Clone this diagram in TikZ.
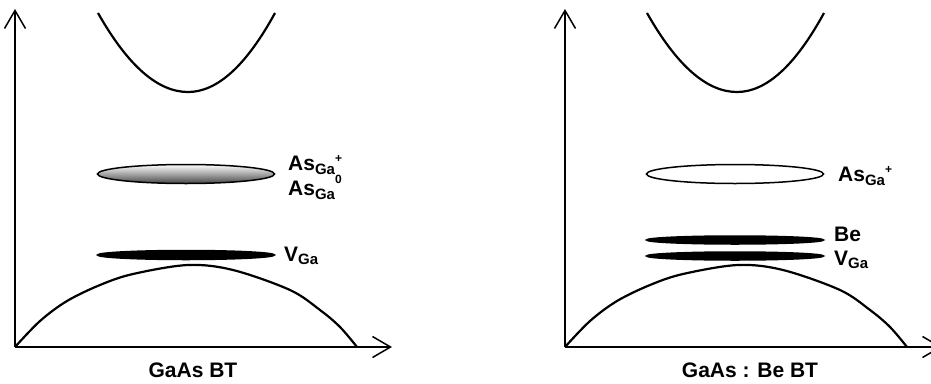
\documentclass[tikz,border=0pt]{standalone}
\usepackage{fontspec}
\setmainfont{Liberation Sans}
\usetikzlibrary{arrows.meta,shapes.geometric}
\newcommand{\deflab}[5]{#1\raisebox{-#4}{\fontsize{15}{15}\selectfont #2}\raisebox{#5}{\fontsize{12}{12}\selectfont #3}}
\tikzset{
  axisline/.style={line width=1.5pt,-{Straight Barb[length=18pt,width=21pt,line width=1.5pt]}},
  bandline/.style={line width=2.2pt,line join=round},
  deflevel/.style={ellipse,draw,line width=1.5pt,minimum width=177pt,minimum height=#1,inner sep=0pt},
  grayfill/.style={top color=white,bottom color=black!72},
  darkfill/.style={fill=black},
  lbl/.style={font=\fontsize{21}{21}\selectfont\bfseries,inner sep=0pt,anchor=base west},
  ttl/.style={font=\fontsize{21}{21}\selectfont\bfseries,inner sep=0pt,anchor=base}
}
\begin{document}
\begin{tikzpicture}[x=1pt,y=-1pt]
\useasboundingbox (0,0) rectangle (931,383);
\clip (0,0) rectangle (931,383);
% ---------- left panel ----------
\coordinate (lo) at (15,347);
\coordinate (ly) at (15,9);
\coordinate (lx) at (392,347);
\draw[axisline] (lo) -- (ly);
\draw[axisline] (lo) -- (lx);
\draw[bandline] (98,13) .. controls (128,66) and (158,92) .. (188,92)
                        .. controls (217,92) and (246,66) .. (275,13);
\draw[bandline] plot[smooth,tension=0.55] coordinates {(15,347) (40,321) (67,301) (100,285) (133,274) (188,265) (233,270) (290,290) (320,310) (340,327) (357,347)};
\node[deflevel=19pt,grayfill] (las) at (186,174) {};
\node[deflevel=9pt,darkfill] (lv) at (186,255) {};
\node[lbl] (lasp) at (288,170) {\deflab{As}{Ga}{+}{4pt}{8pt}};
\node[lbl] (las0) at (288,195) {\deflab{As}{Ga}{0}{4pt}{12pt}};
\node[lbl] (lvl) at (284,261) {\deflab{V}{Ga}{}{3pt}{8pt}};
\node[ttl] (lt) at (193,377) {GaAs BT};
% ---------- right panel ----------
\coordinate (ro) at (565,347);
\coordinate (ry) at (565,9);
\coordinate (rx) at (942,347);
\draw[axisline] (ro) -- (ry);
\draw[axisline] (ro) -- (rx);
\draw[bandline] (647,13) .. controls (677,66) and (707,92) .. (737,92)
                         .. controls (766,92) and (795,66) .. (824,13);
\draw[bandline] plot[smooth,tension=0.55] coordinates {(565,347) (590,321) (617,301) (650,285) (683,274) (738,265) (783,270) (840,290) (870,310) (890,327) (907,347)};
\node[deflevel=19pt,fill=white] (ras) at (735,174) {};
\node[deflevel=8pt,darkfill] (rbe) at (735,240) {};
\node[deflevel=8pt,darkfill] (rv) at (735,256) {};
\node[lbl] (rasl) at (838,181) {\deflab{As}{Ga}{+}{4pt}{8pt}};
\node[lbl] (rbel) at (834,241) {Be};
\node[lbl] (rvl) at (834,265) {\deflab{V}{Ga}{}{3pt}{8pt}};
\node[ttl] (rt) at (750,377) {GaAs : Be BT};
\end{tikzpicture}
\end{document}
